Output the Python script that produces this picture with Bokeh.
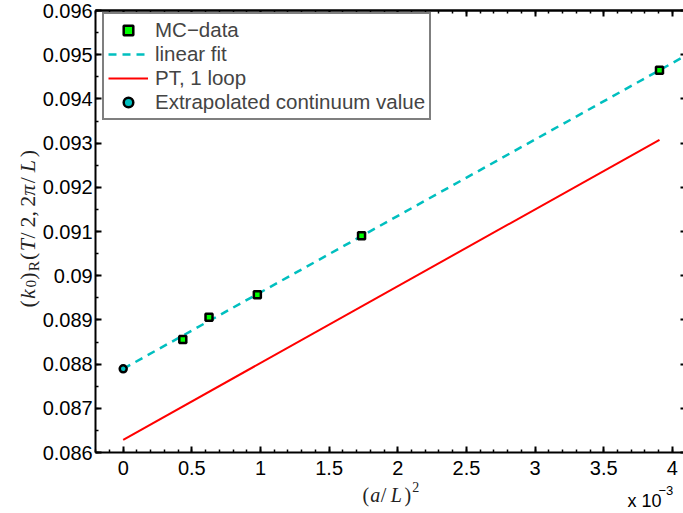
import numpy as np
from bokeh.plotting import figure
from bokeh.models import Range1d, FixedTicker, LinearAxis, Legend, LegendItem, Label
from bokeh.embed import file_html
from bokeh.resources import INLINE

# ---------------- data ----------------
mc_x = [0.000434, 0.000625, 0.000977, 0.001736, 0.003906]
mc_y = [0.088557, 0.089061, 0.089568, 0.090903, 0.094649]
extrap_x = [0.0]
extrap_y = [0.087894]
fit_x = [0.0, 0.0041]
fit_y = [0.087894, 0.094985]
pt_x = [0.0, 0.003906]
pt_y = [0.086287, 0.093075]

x_ticks = [0, 0.0005, 0.001, 0.0015, 0.002, 0.0025, 0.003, 0.0035, 0.004]
x_tick_labels = ["0", "0.5", "1", "1.5", "2", "2.5", "3", "3.5", "4"]
y_ticks = [0.086, 0.087, 0.088, 0.089, 0.09, 0.091, 0.092, 0.093, 0.094, 0.095, 0.096]
y_tick_labels = ["0.086", "0.087", "0.088", "0.089", "0.09", "0.091", "0.092",
                 "0.093", "0.094", "0.095", "0.096"]
x_minor = [round(-0.0002 + 0.0001 * i, 7) for i in range(44)]
y_minor = [round(0.086 + 0.0005 * i, 7) for i in range(21)]
x_lim = (-0.0002, 0.0041)
y_lim = (0.086, 0.096)

legend_labels = ["MC\u2212data", "linear fit", "PT, 1 loop", "Extrapolated continuum value"]

# ---------------- layout (canvas = whole picture) ----------------
W, H = 683, 513
X0_PX, PX_PER_X = 122.7, 137300.0      # pixel of x=0, pixels per x unit
YTOP_PX, PX_PER_Y = 10.0, 44200.0      # pixel of y=0.096, pixels per y unit
x_start = -X0_PX / PX_PER_X
x_end = (W - X0_PX) / PX_PER_X
y_end = y_lim[1] + YTOP_PX / PX_PER_Y
y_start = y_end - H / PX_PER_Y

p = figure(width=W, height=H, output_backend="svg", toolbar_location=None,
           x_range=Range1d(x_start, x_end), y_range=Range1d(y_start, y_end),
           min_border_left=0, min_border_right=0, min_border_top=0, min_border_bottom=0,
           x_axis_location=None, y_axis_location=None)
p.xgrid.visible = False
p.ygrid.visible = False
p.outline_line_color = None
p.background_fill_color = "white"
p.border_fill_color = "white"


def style(ax, major_in=6, minor_in=3):
    ax.axis_line_width = 2
    ax.axis_line_color = "black"
    ax.major_tick_in = major_in
    ax.major_tick_out = 0
    ax.minor_tick_in = minor_in
    ax.minor_tick_out = 0
    ax.major_tick_line_width = 2
    ax.minor_tick_line_width = 1.5
    ax.major_tick_line_color = "black"
    ax.minor_tick_line_color = "black"
    ax.major_label_text_font = "Liberation Sans"
    ax.major_label_text_font_size = "20px"
    ax.major_label_text_color = "black"


# bottom axis with labels
xb = LinearAxis(ticker=FixedTicker(ticks=x_ticks, minor_ticks=x_minor),
                fixed_location=y_lim[0], bounds=x_lim,
                major_label_overrides=dict(zip(x_ticks, x_tick_labels)))
style(xb)
xb.major_label_standoff = 8
p.add_layout(xb, "below")

# left axis with labels
yl = LinearAxis(ticker=FixedTicker(ticks=y_ticks, minor_ticks=y_minor),
                fixed_location=x_lim[0], bounds=y_lim,
                major_label_overrides=dict(zip(y_ticks, y_tick_labels)))
style(yl)
yl.major_label_standoff = 3
p.add_layout(yl, "left")

# top and right box edges: ticks only (no labels)
for minor, ln in ((x_ticks, 6), (x_minor, 3)):
    ax = LinearAxis(ticker=FixedTicker(ticks=[], minor_ticks=minor),
                    fixed_location=y_lim[1], bounds=x_lim)
    style(ax, minor_in=ln)
    ax.minor_tick_line_width = 2 if ln == 6 else 1.5
    p.add_layout(ax, "above")
for minor, ln in ((y_ticks, 6), (y_minor, 3)):
    ax = LinearAxis(ticker=FixedTicker(ticks=[], minor_ticks=minor),
                    fixed_location=x_lim[1], bounds=y_lim)
    style(ax, minor_in=ln)
    ax.minor_tick_line_width = 2 if ln == 6 else 1.5
    p.add_layout(ax, "right")

# ---------------- glyphs ----------------
CYAN = "#00BFBF"
r_fit = p.line(fit_x, fit_y, line_color=CYAN, line_width=2.5, line_dash="8 6")
r_pt = p.line(pt_x, pt_y, line_color="#FF0000", line_width=2)
r_mc = p.scatter(mc_x, mc_y, marker="square", size=7, fill_color="#00FF00",
                 line_color="black", line_width=2.5)
r_ex = p.scatter(extrap_x, extrap_y, marker="circle", size=7, fill_color=CYAN,
                 line_color="black", line_width=2.5)

legend = Legend(items=[LegendItem(label=legend_labels[0], renderers=[r_mc]),
                       LegendItem(label=legend_labels[1], renderers=[r_fit]),
                       LegendItem(label=legend_labels[2], renderers=[r_pt]),
                       LegendItem(label=legend_labels[3], renderers=[r_ex])],
                location=(102, H - 120), padding=4, spacing=0,
                label_height=24, glyph_height=24, glyph_width=40, label_standoff=7,
                label_text_font="Liberation Sans", label_text_font_size="20.5px",
                border_line_color="black", border_line_width=2,
                background_fill_color="white", background_fill_alpha=1)
p.add_layout(legend)

# ---------------- axis labels (composed math text) ----------------
LBL = "#222222"


def piece(txt, px, py, size, italic=False, angle=0.0, font="Liberation Serif", color=LBL):
    """px, py: picture pixels from the top-left corner (baseline start)."""
    p.add_layout(Label(x=px, y=H - py, x_units="screen", y_units="screen", text=txt,
                       text_font=font, text_font_size=f"{size:.1f}px",
                       text_font_style="italic" if italic else "normal",
                       angle=angle, text_color=color,
                       text_baseline="alphabetic", text_align="left"))


# y label: (k_0)_R(T/2, 2pi/L), rotated, runs upward
fs = 22
ylab = [("(", .389, False, 1, 0), ("k", .521, True, 1, 0), ("0", .35, False, .7, .18),
        (")", .389, False, 1, 0), ("R", .515, False, .7, .28), ("(", .389, False, 1, 0),
        ("T", .584, True, 1, 0), ("/", .5, False, 1, 0), ("2", .5, False, 1, 0),
        (",", .445, False, 1, 0), ("2", .5, False, 1, 0), ("\u03c0", .57, True, 1, 0),
        ("/", .5, False, 1, 0), ("L", .681, True, 1, 0), (")", .389, False, 1, 0)]
base_x, pos = 27, 307
for t, w, it, sc, sh in ylab:
    piece(t, base_x + sh * fs, pos, fs * sc, italic=it, angle=np.pi / 2)
    pos -= w * fs

# x label: (a/L)^2
fs = 20
xlab = [("(", .389, False, 1, 0), ("a", .529, True, 1, 0), ("/", .5, False, 1, 0),
        ("L", .681, True, 1, 0), (")", .389, False, 1, 0), ("2", .35, False, .7, -.4)]
pos, base_y = 362, 494
for t, w, it, sc, sh in xlab:
    piece(t, pos, base_y + sh * fs, fs * sc, italic=it)
    pos += w * fs

# exponent note
piece("x 10", 627, 500, 18, font="Liberation Sans", color="black")
piece("\u22123", 658, 490, 13, font="Liberation Sans", color="black")

open("out.html", "w").write(file_html(p, INLINE))
